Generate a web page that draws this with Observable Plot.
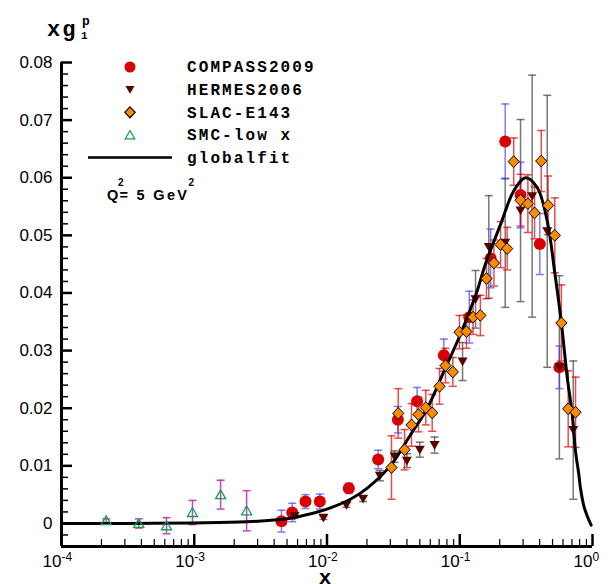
<!DOCTYPE html>
<html><head><meta charset="utf-8">
<script src="https://cdn.jsdelivr.net/npm/d3@7"></script>
<script src="https://cdn.jsdelivr.net/npm/@observablehq/plot@0.6"></script>
<style>
html,body{margin:0;padding:0;background:#fff;}
#chart{position:relative;width:614px;height:584px;overflow:hidden;}
</style></head><body><div id="chart"></div>
<script>
// ---- data ----
const smcX   = [2.17e-4, 3.82e-4, 6.18e-4, 9.7e-4, 1.58e-3, 2.48e-3];
const smcY   = [0.0005, 0.0000, -0.0004, 0.0019, 0.0050, 0.0022];
const smcErr = [0.0003, 0.0008, 0.0014, 0.0021, 0.0025, 0.0035];

const compassX   = [4.54e-3, 5.47e-3, 6.89e-3, 8.83e-3, 1.46e-2, 2.43e-2, 3.42e-2, 4.77e-2, 7.59e-2, 0.118, 0.171, 0.220, 0.287, 0.401, 0.563];
const compassY   = [0.0004, 0.0019, 0.0038, 0.0038, 0.0061, 0.0111, 0.0180, 0.0212, 0.0292, 0.0358, 0.0460, 0.0663, 0.0570, 0.0485, 0.0271];
const compassErr = [0.0019, 0.0016, 0.0012, 0.0013, 0.0009, 0.0016, 0.0023, 0.0024, 0.0028, 0.0045, 0.0051, 0.0065, 0.0057, 0.0053, 0.0037];

const hermesX   = [5.69e-3, 9.4e-3, 1.40e-2, 1.87e-2, 2.5e-2, 3.23e-2, 4.0e-2, 5.0e-2, 6.46e-2, 0.105, 0.1315, 0.1655, 0.220, 0.287, 0.351, 0.456, 0.563, 0.716];
const hermesY   = [0.0013, 0.0010, 0.0032, 0.0043, 0.0083, 0.0116, 0.0109, 0.0128, 0.0136, 0.0281, 0.0389, 0.0480, 0.0487, 0.0543, 0.0568, 0.0507, 0.0271, 0.0162];
const hermesErr = [0.0003, 0.0003, 0.0004, 0.0005, 0.0009, 0.0010, 0.0012, 0.0013, 0.0014, 0.0033, 0.0050, 0.0089, 0.0112, 0.0158, 0.0210, 0.0236, 0.0159, 0.0120];

const slacX   = [3.06e-2, 3.84e-2, 3.44e-2, 4.33e-2, 4.89e-2, 5.55e-2, 6.2e-2, 7.04e-2, 7.81e-2, 8.87e-2, 0.0995, 0.1124, 0.126, 0.143, 0.159, 0.181, 0.203, 0.2275, 0.255, 0.287, 0.326, 0.366, 0.411, 0.463, 0.520, 0.583, 0.656, 0.745];
const slacY   = [0.0097, 0.0128, 0.0191, 0.0171, 0.0189, 0.0201, 0.0192, 0.0238, 0.0274, 0.0263, 0.0332, 0.0333, 0.0358, 0.0361, 0.0425, 0.0452, 0.0484, 0.0477, 0.0628, 0.0561, 0.0555, 0.0539, 0.0629, 0.0552, 0.0500, 0.0348, 0.0199, 0.0193];
const slacErr = [0.0055, 0.0035, 0.0043, 0.0037, 0.0030, 0.0030, 0.0032, 0.0031, 0.0030, 0.0025, 0.0029, 0.0029, 0.0030, 0.0035, 0.0035, 0.0040, 0.0040, 0.0037, 0.0041, 0.0045, 0.0050, 0.0045, 0.0053, 0.0051, 0.0065, 0.0066, 0.0066, 0.0061];

const fitX = [1e-4, 3e-4, 1e-3, 2.5e-3, 5e-3, 7e-3, 1e-2, 1.5e-2, 2e-2, 3e-2, 4.26e-2, 5.7e-2, 7.6e-2, 0.101, 0.135, 0.156, 0.203, 0.255, 0.313, 0.383, 0.456, 0.520, 0.583, 0.644, 0.703, 0.745, 0.789, 0.812, 0.861, 0.912, 0.977];
const fitY = [0.0000, 0.0000, 0.0001, 0.0003, 0.0008, 0.0015, 0.0025, 0.0042, 0.0061, 0.0100, 0.0154, 0.0200, 0.0264, 0.0328, 0.0403, 0.0450, 0.0519, 0.0577, 0.0600, 0.0583, 0.0525, 0.0435, 0.0348, 0.0255, 0.0190, 0.0125, 0.0085, 0.0061, 0.0030, 0.0013, -0.0003];

const yMajor = [0, 0.01, 0.02, 0.03, 0.04, 0.05, 0.06, 0.07, 0.08];
const yMinor = d3.range(-2, 40).map(i => i * 0.002).filter(v => Math.abs(v / 0.01 - Math.round(v / 0.01)) > 1e-6);
const xMajor = [1e-4, 1e-3, 1e-2, 1e-1, 1];
const xMinor = [-4, -3, -2, -1].flatMap(e => d3.range(2, 10).map(k => k * Math.pow(10, e)));

const legendNames = ["COMPASS2009", "HERMES2006", "SLAC-E143", "SMC-low x", "globalfit"];

// ---- build tables ----
const rows = (xs, ys, es) => xs.map((x, i) => ({x, y: ys[i], e: es[i]}));
const smc = rows(smcX, smcY, smcErr);
const compass = rows(compassX, compassY, compassErr);
const hermes = rows(hermesX, hermesY, hermesErr);
const slac = rows(slacX, slacY, slacErr);
const fit = fitX.map((x, i) => ({x, y: fitY[i]}));

// ---- symbols ----
const rad = s => Math.sqrt(s / Math.PI);
const capSym = {draw(c, s) { const r = rad(s); c.moveTo(-r, 0); c.lineTo(r, 0); }};
const triDown = {draw(c, s) { const r = rad(s); c.moveTo(-r, -r * 0.8); c.lineTo(r, -r * 0.8); c.lineTo(0, r * 0.95); c.closePath(); }};
const triUp = {draw(c, s) { const r = rad(s); c.moveTo(0, -r * 0.95); c.lineTo(r, r * 0.8); c.lineTo(-r, r * 0.8); c.closePath(); }};
const diamondSym = {draw(c, s) { const r = rad(s); c.moveTo(0, -r * 1.05); c.lineTo(r, 0); c.lineTo(0, r * 1.05); c.lineTo(-r, 0); c.closePath(); }};

const COL = {
  compass: "#d80000", compassErr: "#3838ff",
  hermes: "#5a0000", hermesErr: "#4a4a4a",
  slac: "#ff8a00", slacErr: "#e00000",
  smc: "#10a050", smcErr: "#c030c0"
};

function errMarks(data, color, op) {
  return [
    Plot.ruleX(data, {x: "x", y1: d => d.y - d.e, y2: d => d.y + d.e, stroke: color, strokeOpacity: op, strokeWidth: 1.5}),
    Plot.dot(data, {x: "x", y: d => d.y + d.e, symbol: capSym, r: 4, stroke: color, strokeOpacity: op, strokeWidth: 1.5, fill: "none"}),
    Plot.dot(data, {x: "x", y: d => d.y - d.e, symbol: capSym, r: 4, stroke: color, strokeOpacity: op, strokeWidth: 1.5, fill: "none"})
  ];
}

const plot = Plot.plot({
  width: 614, height: 584,
  marginLeft: 61, marginRight: 22, marginTop: 62, marginBottom: 38,
  style: {fontFamily: "'Liberation Sans', Arial, sans-serif", background: "white", color: "black"},
  x: {type: "log", domain: [1e-4, 1]},
  y: {domain: [-0.004, 0.08]},
  marks: [
    Plot.axisY(yMinor, {tickSize: -7, fill: "none", label: null, strokeWidth: 1.5}),
    Plot.axisY(yMajor, {tickSize: -11, tickPadding: 20, strokeWidth: 2.5, fontSize: 17, label: null,
      tickFormat: d => d === 0 ? "0" : d.toFixed(2)}),
    Plot.axisX(xMinor, {tickSize: -7, fill: "none", label: null, strokeWidth: 1.2}),
    Plot.axisX(xMajor, {tickSize: -12, tickPadding: 20, strokeWidth: 2.5, fontSize: 17, label: null,
      tickFormat: d => "10^" + Math.round(Math.log10(d))}),
    Plot.ruleX([1e-4], {strokeWidth: 3}),
    Plot.ruleY([-0.004], {strokeWidth: 3}),
    ...errMarks(smc, COL.smcErr, 0.9),
    ...errMarks(hermes, COL.hermesErr, 0.75),
    ...errMarks(compass, COL.compassErr, 0.65),
    ...errMarks(slac, COL.slacErr, 0.7),
    Plot.dot(compass, {x: "x", y: "y", r: 6, fill: COL.compass, stroke: "none"}),
    Plot.dot(hermes, {x: "x", y: "y", r: 5, symbol: triDown, fill: COL.hermes, stroke: "none"}),
    Plot.line(fit, {x: "x", y: "y", curve: "catmull-rom", stroke: "black", strokeWidth: 3}),
    Plot.dot(slac, {x: "x", y: "y", r: 5.6, symbol: diamondSym, fill: COL.slac, stroke: "black", strokeWidth: 1}),
    Plot.dot(smc, {x: "x", y: "y", r: 5, symbol: triUp, fill: "none", stroke: COL.smc, strokeWidth: 1.3})
  ]
});

document.getElementById("chart").appendChild(plot);
const svg = d3.select(plot);

// superscript exponents on x tick labels
svg.selectAll('g[aria-label="x-axis tick label"] text').each(function () {
  const t = d3.select(this);
  const exp = t.text().split("^")[1];
  t.text(null).attr("text-anchor", "start");
  t.append("tspan").attr("dx", -19).text("10");
  t.append("tspan").attr("dy", -6).attr("font-size", 12).text(exp);
});

// axis titles
const mono = "'Liberation Mono', 'Courier New', monospace";
const g = svg.append("g").attr("text-anchor", "start");
g.append("text").attr("x", 47).attr("y", 36).attr("font-family", mono).attr("font-weight", "bold")
  .attr("font-size", 22).attr("letter-spacing", 2).text("xg");
g.append("text").attr("x", 81).attr("y", 39).attr("font-family", mono).attr("font-weight", "bold")
  .attr("font-size", 11).text("1");
g.append("text").attr("x", 82).attr("y", 25).attr("font-family", mono).attr("font-weight", "bold")
  .attr("font-size", 13).text("p");
g.append("text").attr("x", 325).attr("y", 584).attr("text-anchor", "middle").attr("font-family", mono)
  .attr("font-weight", "bold").attr("font-size", 21).text("x");

// legend
const legendY = [67, 89.5, 112.3, 135, 157.5];
const legendSyms = [
  {sym: d3.symbolCircle, r: 5.5, fill: COL.compass, stroke: "none"},
  {sym: triDown, r: 4.5, fill: COL.hermes, stroke: "none"},
  {sym: diamondSym, r: 5.2, fill: COL.slac, stroke: "black"},
  {sym: triUp, r: 4.8, fill: "none", stroke: COL.smc}
];
legendSyms.forEach((s, i) => {
  const p = d3.path(); s.sym.draw(p, s.r * s.r * Math.PI);
  g.append("path").attr("d", p.toString()).attr("transform", `translate(130,${legendY[i]})`)
    .attr("fill", s.fill).attr("stroke", s.stroke).attr("stroke-width", 1.2);
});
g.append("line").attr("x1", 88).attr("x2", 172).attr("y1", legendY[4]).attr("y2", legendY[4])
  .attr("stroke", "black").attr("stroke-width", 2.6);
legendNames.forEach((n, i) => {
  g.append("text").attr("x", 187).attr("y", legendY[i] + 5.2).attr("font-family", mono)
    .attr("font-weight", "bold").attr("font-size", 16).attr("letter-spacing", 2.1).text(n);
});

// Q^2 annotation
const sans = "'Liberation Sans', Arial, sans-serif";
g.append("text").attr("x", 107).attr("y", 200).attr("font-family", sans).attr("font-weight", "bold")
  .attr("font-size", 14.5).text("Q");
g.append("text").attr("x", 118).attr("y", 186).attr("font-family", sans).attr("font-weight", "bold")
  .attr("font-size", 10).text("2");
g.append("text").attr("x", 119.5).attr("y", 200).attr("font-family", sans).attr("font-weight", "bold")
  .attr("font-size", 14.5).attr("textLength", 67.5).attr("lengthAdjust", "spacing").text("= 5 GeV");
g.append("text").attr("x", 188.5).attr("y", 186).attr("font-family", sans).attr("font-weight", "bold")
  .attr("font-size", 10).text("2");
</script>
</body></html>
